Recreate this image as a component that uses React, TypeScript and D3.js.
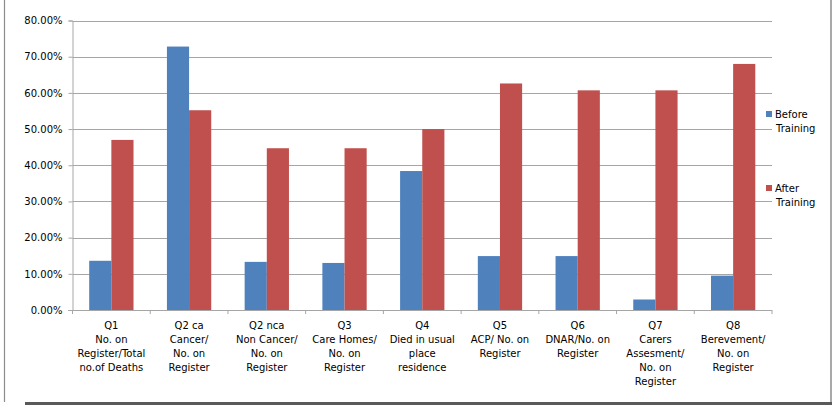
import { useEffect, useRef } from 'react';
import * as d3 from 'd3';

// Category labels (multi-line)
const categories: string[][] = [
  ['Q1', 'No. on', 'Register/Total', 'no.of Deaths'],
  ['Q2 ca', 'Cancer/', 'No. on', 'Register'],
  ['Q2 nca', 'Non Cancer/', 'No. on', 'Register'],
  ['Q3', 'Care Homes/', 'No. on', 'Register'],
  ['Q4', 'Died in usual', 'place', 'residence'],
  ['Q5', 'ACP/ No. on', 'Register'],
  ['Q6', 'DNAR/No. on', 'Register'],
  ['Q7', 'Carers', 'Assesment/', 'No. on', 'Register'],
  ['Q8', 'Berevement/', 'No. on', 'Register'],
];

const beforeTraining = [13.6, 72.8, 13.3, 13.0, 38.4, 14.9, 14.9, 2.9, 9.5];
const afterTraining = [47.0, 55.2, 44.7, 44.7, 50.0, 62.6, 60.7, 60.7, 68.0];

const yTicks = [0, 10, 20, 30, 40, 50, 60, 70, 80];

const seriesNames = ['Before Training', 'After Training'];
const seriesColors = ['#4F81BD', '#C0504D'];

const W = 832;
const H = 405;

export default function App() {
  const svgRef = useRef<SVGSVGElement>(null);

  useEffect(() => {
    if (!svgRef.current) return;
    const svg = d3.select(svgRef.current);
    svg.selectAll('*').remove();

    const font = 'DejaVu Sans, Verdana, sans-serif';
    const plot = { left: 72.5, right: 772, top: 20.5, bottom: 310 };

    // Frame
    svg.append('line')
      .attr('x1', 4.5).attr('x2', 4.5).attr('y1', 0).attr('y2', 402)
      .attr('stroke', '#8c8c8c').attr('stroke-width', 1.2);
    svg.append('line')
      .attr('x1', 831).attr('x2', 831).attr('y1', 0).attr('y2', H)
      .attr('stroke', '#8c8c8c').attr('stroke-width', 1.5);
    svg.append('rect')
      .attr('x', 25).attr('y', 402).attr('width', W - 25).attr('height', 3)
      .attr('fill', '#595959');

    const names = categories.map((c) => c[0]);
    const x = d3.scaleBand<string>()
      .domain(names)
      .range([plot.left, plot.right])
      .paddingInner(0.43)
      .paddingOuter(0.215);
    const y = d3.scaleLinear().domain([0, 80]).range([plot.bottom, plot.top]);
    const step = x.step();
    const xs = d3.scaleBand<number>().domain([0, 1]).range([0, x.bandwidth()]);

    // Gridlines
    svg.append('g')
      .selectAll('line')
      .data(yTicks.filter((t) => t > 0))
      .join('line')
      .attr('x1', plot.left).attr('x2', plot.right)
      .attr('y1', (d) => Math.round(y(d)) + 0.5)
      .attr('y2', (d) => Math.round(y(d)) + 0.5)
      .attr('stroke', '#a6a6a6').attr('stroke-width', 1);

    // Y axis
    const yAxis = d3.axisLeft(y)
      .tickValues(yTicks)
      .tickSize(4)
      .tickFormat((d) => `${(+d).toFixed(2)}%`);
    const gy = svg.append('g').attr('transform', `translate(${plot.left},0)`).call(yAxis);
    gy.select('.domain').attr('stroke', '#a6a6a6');
    gy.selectAll('.tick line').attr('stroke', '#a6a6a6');
    gy.selectAll('.tick text')
      .attr('x', -10)
      .attr('fill', '#000')
      .style('font-family', font)
      .style('font-size', '10px');

    // Bars
    const series = [beforeTraining, afterTraining];
    series.forEach((vals, si) => {
      svg.append('g')
        .selectAll('rect')
        .data(vals)
        .join('rect')
        .attr('x', (_d, i) => (x(names[i]) ?? 0) + (xs(si) ?? 0))
        .attr('y', (d) => y(d))
        .attr('width', xs.bandwidth())
        .attr('height', (d) => plot.bottom - y(d))
        .attr('fill', seriesColors[si]);
    });

    // X axis line and ticks
    svg.append('line')
      .attr('x1', plot.left - 4).attr('x2', plot.right)
      .attr('y1', plot.bottom + 0.5).attr('y2', plot.bottom + 0.5)
      .attr('stroke', '#a6a6a6').attr('stroke-width', 1.2);
    svg.append('g')
      .selectAll('line')
      .data(d3.range(names.length + 1))
      .join('line')
      .attr('x1', (i) => plot.left + i * step)
      .attr('x2', (i) => plot.left + i * step)
      .attr('y1', plot.bottom)
      .attr('y2', plot.bottom + 4)
      .attr('stroke', '#a6a6a6');

    // Category labels
    const lab = svg.append('g')
      .selectAll('text')
      .data(categories)
      .join('text')
      .attr('text-anchor', 'middle')
      .attr('fill', '#000')
      .style('font-family', font)
      .style('font-size', '10px')
      .attr('transform', (_d, i) => `translate(${plot.left + (i + 0.5) * step},329)`);
    lab.selectAll('tspan')
      .data((d) => d)
      .join('tspan')
      .attr('x', 0)
      .attr('y', (_d, j) => j * 14)
      .text((d) => d);

    // Legend
    const legendY = [118, 192];
    seriesNames.forEach((name, si) => {
      const g = svg.append('g').attr('transform', `translate(766,${legendY[si]})`);
      g.append('rect')
        .attr('x', 0).attr('y', -7).attr('width', 6).attr('height', 6)
        .attr('fill', seriesColors[si]);
      const words = name.split(' ');
      g.append('text')
        .attr('fill', '#000')
        .style('font-family', font)
        .style('font-size', '10px')
        .selectAll('tspan')
        .data(words)
        .join('tspan')
        .attr('x', (_d, j) => (j === 0 ? 9 : 10))
        .attr('y', (_d, j) => j * 14)
        .text((d) => d);
    });
  }, []);

  return (
    <svg
      ref={svgRef}
      width={W}
      height={H}
      style={{ position: 'absolute', left: 0, top: 0, display: 'block', background: '#fff' }}
    />
  );
}
